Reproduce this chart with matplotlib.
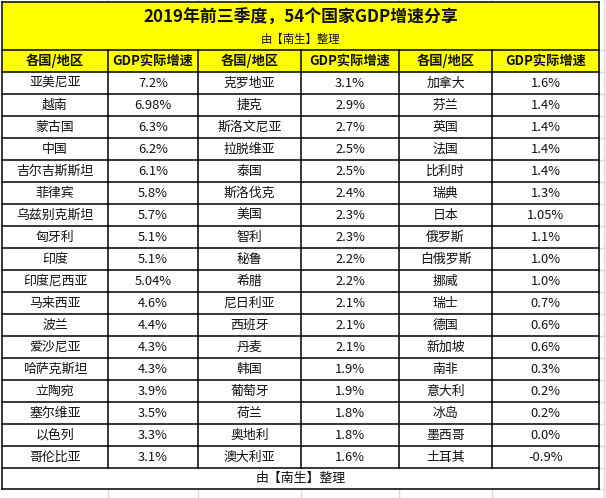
import matplotlib
matplotlib.use('Agg')
from matplotlib import pyplot as plt
from matplotlib.patches import Rectangle

plt.rcParams['font.family'] = ['Noto Sans CJK SC', 'DejaVu Sans']

title = '2019年前三季度，54个国家GDP增速分享'
subtitle = '由【南生】整理'
col_headers = ['各国/地区', 'GDP实际增速']

countries_1 = ['亚美尼亚', '越南', '蒙古国', '中国', '吉尔吉斯斯坦', '菲律宾', '乌兹别克斯坦', '匈牙利', '印度',
               '印度尼西亚', '马来西亚', '波兰', '爱沙尼亚', '哈萨克斯坦', '立陶宛', '塞尔维亚', '以色列', '哥伦比亚']
growth_1 = ['7.2%', '6.98%', '6.3%', '6.2%', '6.1%', '5.8%', '5.7%', '5.1%', '5.1%',
            '5.04%', '4.6%', '4.4%', '4.3%', '4.3%', '3.9%', '3.5%', '3.3%', '3.1%']
countries_2 = ['克罗地亚', '捷克', '斯洛文尼亚', '拉脱维亚', '泰国', '斯洛伐克', '美国', '智利', '秘鲁',
               '希腊', '尼日利亚', '西班牙', '丹麦', '韩国', '葡萄牙', '荷兰', '奥地利', '澳大利亚']
growth_2 = ['3.1%', '2.9%', '2.7%', '2.5%', '2.5%', '2.4%', '2.3%', '2.3%', '2.2%',
            '2.2%', '2.1%', '2.1%', '2.1%', '1.9%', '1.9%', '1.8%', '1.8%', '1.6%']
countries_3 = ['加拿大', '芬兰', '英国', '法国', '比利时', '瑞典', '日本', '俄罗斯', '白俄罗斯',
               '挪威', '瑞士', '德国', '新加坡', '南非', '意大利', '冰岛', '墨西哥', '土耳其']
growth_3 = ['1.6%', '1.4%', '1.4%', '1.4%', '1.4%', '1.3%', '1.05%', '1.1%', '1.0%',
            '1.0%', '0.7%', '0.6%', '0.6%', '0.3%', '0.2%', '0.2%', '0.0%', '-0.9%']

columns = [countries_1, growth_1, countries_2, growth_2, countries_3, growth_3]

# layout in pixels
W, H = 606, 498
x_edges = [2, 108, 198, 301, 399, 492, 599]
y_top, y_title, y_head = 2, 50, 72
row_h = 22
n_rows = len(countries_1)
y_body_end = y_head + n_rows * row_h
y_foot = y_body_end + 21

yellow = '#ffff00'
grid_gray = '#d9d9d9'
text_col = '#111111'

fig = plt.figure(figsize=(W / 100, H / 100), dpi=100)
ax = fig.add_axes([0, 0, 1, 1])
ax.set_xlim(0, W)
ax.set_ylim(H, 0)
ax.axis('off')

# faint spreadsheet gridlines outside the table
for x in x_edges[1:-1] + [604]:
    ax.plot([x, x], [y_foot, H], color=grid_gray, lw=1)
    ax.plot([x, x], [0, y_top], color=grid_gray, lw=1)
ax.plot([604, 604], [0, H], color=grid_gray, lw=1)
for y in [y_title, y_head] + [y_head + i * row_h for i in range(1, n_rows + 1)] + [y_foot]:
    ax.plot([x_edges[-1], W], [y, y], color=grid_gray, lw=1)

# yellow title + header background
ax.add_patch(Rectangle((x_edges[0], y_top), x_edges[-1] - x_edges[0], y_head - y_top,
                       facecolor=yellow, edgecolor='none'))

# borders
lw = 1.1
ax.plot([x_edges[0], x_edges[-1]], [y_top, y_top], color='black', lw=lw)
for y in [y_title, y_head] + [y_head + i * row_h for i in range(1, n_rows + 1)] + [y_foot]:
    ax.plot([x_edges[0], x_edges[-1]], [y, y], color='black', lw=lw)
for x in x_edges[1:-1]:
    ax.plot([x, x], [y_title, y_body_end], color='black', lw=lw)
for x in [x_edges[0], x_edges[-1]]:
    ax.plot([x, x], [y_top, y_foot], color='black', lw=lw)

# title
cx = (x_edges[0] + x_edges[-1]) / 2
ax.text(cx, 18, title, ha='center', va='center', fontsize=12.2, fontweight='bold', color=text_col)
ax.text(cx, 39, subtitle, ha='center', va='center', fontsize=8.2, color=text_col)

# headers
for i in range(6):
    xc = (x_edges[i] + x_edges[i + 1]) / 2
    ax.text(xc, (y_title + y_head) / 2, col_headers[i % 2], ha='center', va='center',
            fontsize=9.5, fontweight='bold', color=text_col)

# body
for i, col in enumerate(columns):
    xc = (x_edges[i] + x_edges[i + 1]) / 2
    for r, val in enumerate(col):
        yc = y_head + (r + 0.5) * row_h
        ax.text(xc, yc, val, ha='center', va='center', fontsize=9.3, color=text_col)

# footer
ax.text(cx, (y_body_end + y_foot) / 2, subtitle, ha='center', va='center', fontsize=9.3, color=text_col)

fig.savefig('out.png', dpi=100)
